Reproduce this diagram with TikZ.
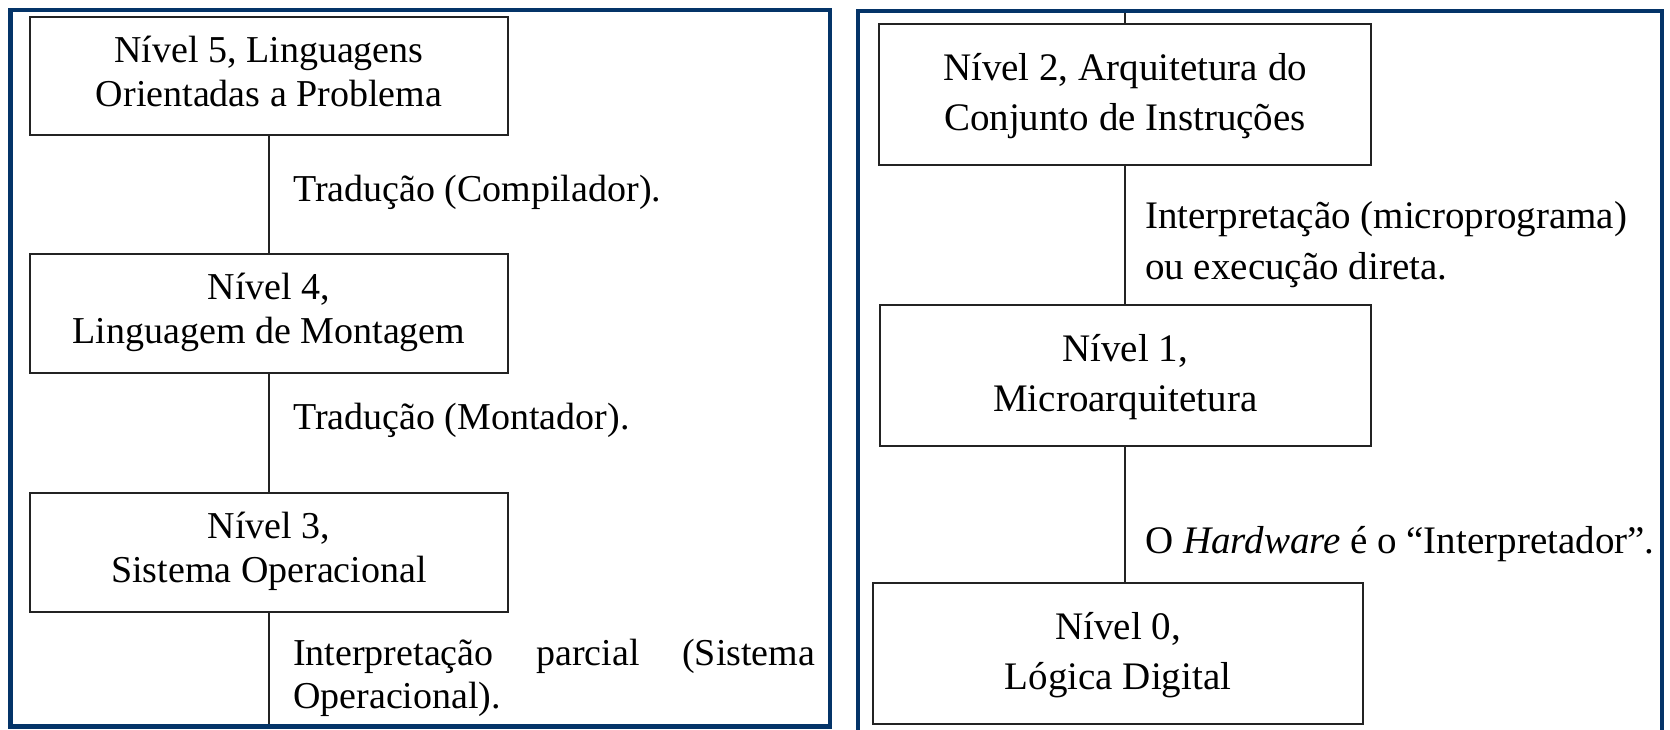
\documentclass[tikz,border=0pt]{standalone}
\usepackage{fontspec}
\setmainfont{Liberation Serif}
\definecolor{framec}{RGB}{4,52,104}
\definecolor{linec}{RGB}{35,35,35}
\tikzset{
  panel/.style={draw=framec, line width=4.5pt},
  lbox/.style={draw=linec, line width=2pt, fill=white, minimum width=478pt, align=center,
    inner sep=0pt, font=\fontsize{38}{44}\selectfont, text height=72pt, text depth=12pt},
  rbox/.style={draw=linec, line width=2pt, fill=white, align=center,
    inner sep=0pt, font=\fontsize{39}{50}\selectfont, text height=80pt, text depth=9pt},
  conn/.style={draw=linec, line width=1.8pt},
  llabel/.style={anchor=north west, inner sep=0pt, align=left, text height=28pt,
    font=\fontsize{38}{43}\selectfont},
  rlabel/.style={anchor=north west, inner sep=0pt, align=left, text height=30pt,
    font=\fontsize{39}{51}\selectfont},
}
\begin{document}
\begin{tikzpicture}[x=1pt, y=-1pt]
\clip (0,0) rectangle (1670,729);
\fill[white] (0,0) rectangle (1670,729);

% ---------- left panel ----------
\node[lbox, minimum height=118.5pt] (b5) at (269,76) {Nível 5, Linguagens\\Orientadas a Problema};
\node[lbox, minimum height=119pt] (b4) at (269,313.5) {Nível 4,\\Linguagem de Montagem};
\node[lbox, minimum height=119pt] (b3) at (269,552.2) {Nível 3,\\Sistema Operacional};
\coordinate (lbot) at (269,728);
\draw[conn] (b5.south) -- (b4.north);
\draw[conn] (b4.south) -- (b3.north);
\draw[conn] (b3.south) -- (lbot);

\node[llabel] (t54) at (293,173.7) {Tradução (Compilador).};
\node[llabel] (t43) at (293,401) {Tradução (Montador).};
\node[llabel, text height=71pt] (t3) at (293,637) {\makebox[522pt][s]{Interpretação parcial (Sistema}\\Operacional).};

% ---------- right panel ----------
\node[rbox, minimum width=491.4pt, minimum height=141.5pt] (b2) at (1125,94.7) {Nível 2, Arquitetura do\\Conjunto de Instruções};
\node[rbox, minimum width=490.7pt, minimum height=141pt] (b1) at (1125.3,375.5) {Nível 1,\\Microarquitetura};
\node[rbox, minimum width=490.6pt, minimum height=140.7pt] (b0) at (1118,653.7) {Nível 0,\\Lógica Digital};
\coordinate (rtop) at (1125,10);
\draw[conn] (rtop) -- (b2.north);
\draw[conn] (b2.south) -- (b2.south |- b1.north);
\draw[conn] (b1.south) -- (b1.south |- b0.north);

\node[rlabel, text height=81pt] (t21) at (1145,198) {Interpretação (microprograma)\\ou execução direta.};
\node[rlabel] (t10) at (1145,523.5) {O \textit{Hardware} é o “Interpretador”.};

% ---------- frames ----------
\draw[panel] (10.5,10) rectangle (830,726.5);
\draw[panel] (858,11) rectangle (1662,745);
\end{tikzpicture}
\end{document}
